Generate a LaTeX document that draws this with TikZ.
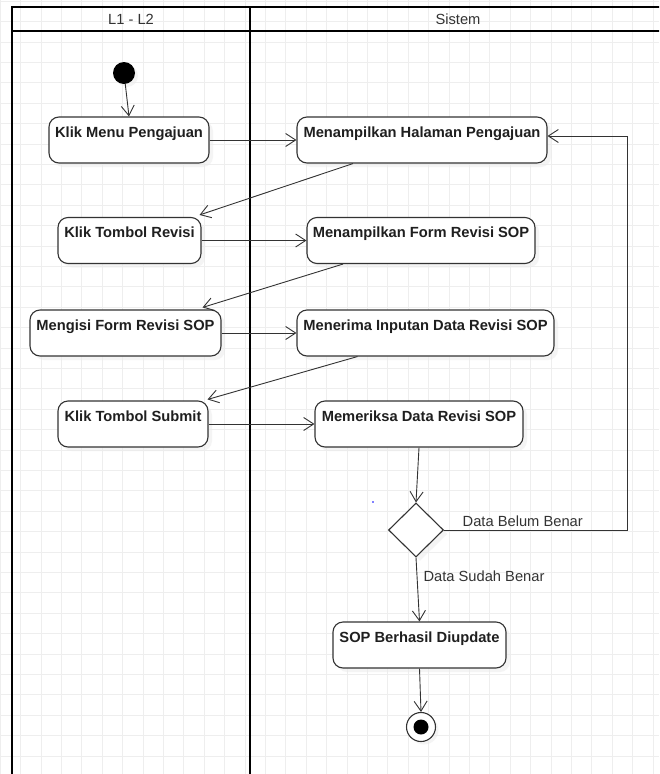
\documentclass[tikz,border=0pt]{standalone}
\usepackage{fontspec}
\setmainfont{Liberation Sans}
\usetikzlibrary{arrows.meta,shapes.geometric,shadows}
\definecolor{linegray}{HTML}{333333}
\definecolor{gridgray}{HTML}{EEEEEE}
\begin{document}
\begin{tikzpicture}[x=1pt,y=-1pt,
	every node/.style={font=\fontsize{14.7}{17}\selectfont},
	act/.style={draw=linegray,line width=1.1pt,rounded corners=10pt,fill=white,text=black!88,
		font=\fontsize{14.7}{17}\selectfont\bfseries,inner xsep=2pt,inner ysep=0pt,
		text height=20pt,text depth=26pt,
		drop shadow={shadow xshift=4pt,shadow yshift=-4pt,fill=black!8}},
	flow/.style={draw=linegray,line width=0.9pt,-{Straight Barb[length=10pt,width=13pt]}},
	lane/.style={draw=black,line width=2pt},
	gridline/.style={draw=gridgray,line width=0.9pt}]
	\useasboundingbox (0,0) rectangle (659,774);
	\clip (0,0) rectangle (659,774);
	\fill[white] (0,0) rectangle (659,774);
	\foreach \i in {0,...,32} \draw[gridline] ({0.3+20.4*\i},0) -- ({0.3+20.4*\i},774);
	\foreach \j in {0,...,38} \draw[gridline] (0,{1.3+20.4*\j}) -- (659,{1.3+20.4*\j});
	\draw[lane] (12,7) rectangle (668,800);
	\draw[lane] (12,31) -- (668,31);
	\draw[lane] (250,7) -- (250,800);
	\node[text=linegray] (laneA) at (131,19) {L1 - L2};
	\node[text=linegray] (laneB) at (458,19) {Sistem};
	\node[circle,fill=black,minimum size=22pt,inner sep=0pt,drop shadow={shadow xshift=3pt,shadow yshift=-3pt,fill=black!8}] (start) at (124,73) {};
	\node[act,minimum width=160pt] (km) at (129,140) {Klik Menu Pengajuan};
	\node[act,minimum width=250pt] (mh) at (422,140) {Menampilkan Halaman Pengajuan};
	\node[act,minimum width=143pt] (ktr) at (129.5,240.5) {Klik Tombol Revisi};
	\node[act,minimum width=228pt] (mf) at (421,240.5) {Menampilkan Form Revisi SOP};
	\node[act,minimum width=191pt] (mfr) at (125.5,333) {Mengisi Form Revisi SOP};
	\node[act,minimum width=257pt] (mi) at (425.5,333) {Menerima Inputan Data Revisi SOP};
	\node[act,minimum width=150pt] (kts) at (133,424) {Klik Tombol Submit};
	\node[act,minimum width=208pt] (md) at (419,424) {Memeriksa Data Revisi SOP};
	\node[diamond,aspect=1,draw=linegray,line width=1.1pt,fill=white,minimum width=55pt,minimum height=54pt,inner sep=0pt,drop shadow={shadow xshift=4pt,shadow yshift=-4pt,fill=black!8}] (dec) at (416,530) {};
	\node[act,minimum width=173pt] (sop) at (419.5,645) {SOP Berhasil Diupdate};
	\node[circle,draw=linegray,line width=1.1pt,fill=white,minimum size=29pt,inner sep=0pt,drop shadow={shadow xshift=3pt,shadow yshift=-3pt,fill=black!8},
		path picture={\fill[black] (path picture bounding box.center) circle (7.5pt);}] (end) at (421,727) {};
	\fill[blue] (373,502) circle (0.9);
	\coordinate (back) at (627,530);
	\draw[flow] (start) -- (km.north);
	\draw[flow] (km) -- (mh);
	\draw[flow] ([xshift=-69pt]mh.south) -- ([xshift=-2pt,yshift=2pt]ktr.north east);
	\draw[flow] (ktr) -- (mf);
	\draw[flow] ([xshift=-78pt]mf.south) -- ([xshift=-19pt,yshift=2pt]mfr.north east);
	\draw[flow] (mfr) -- (mi);
	\draw[flow] ([xshift=-68pt]mi.south) -- ([xshift=-1pt,yshift=1pt]kts.north east);
	\draw[flow] (kts) -- (md);
	\draw[flow] (md.south) -- (dec.north);
	\draw[flow] (dec.east) -- node[pos=0.43,above,inner sep=3pt,text=linegray] (lblno) {Data Belum Benar} (back) |- ([yshift=4pt]mh.east);
	\draw[flow] (dec.south) -- node[pos=0.3,right,inner sep=6pt,text=linegray] (lblyes) {Data Sudah Benar} (sop.north);
	\draw[flow] (sop.south) -- (end.north);
\end{tikzpicture}
\end{document}
